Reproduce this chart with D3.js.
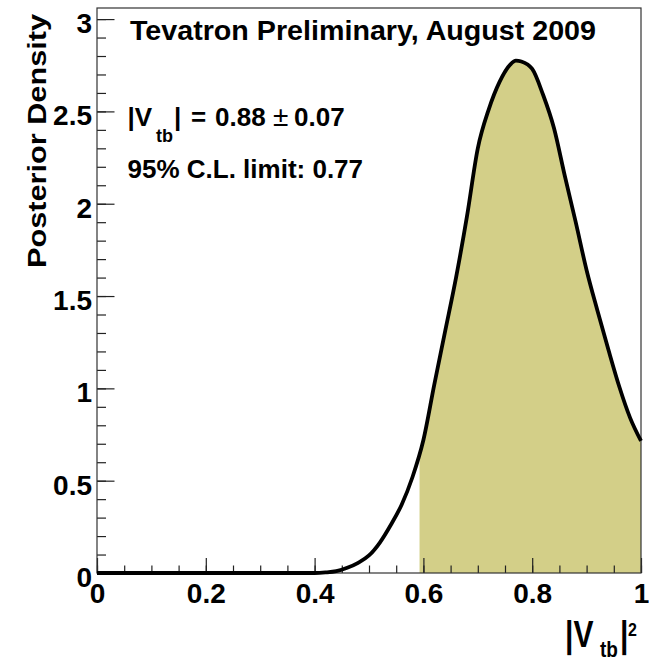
<!DOCTYPE html>
<html>
<head>
<meta charset="utf-8">
<script src="https://cdn.jsdelivr.net/npm/d3@7"></script>
<style>
  html, body { margin: 0; padding: 0; background: #fff; }
  svg { display: block; font-family: "Liberation Sans", Arial, Helvetica, sans-serif; font-weight: bold; }
</style>
</head>
<body>
<svg id="chart" width="649" height="662"></svg>
<script>
// Posterior density for |Vtb|^2
const vtb2 = [0, 0.1, 0.2, 0.3, 0.4, 0.42, 0.44, 0.46, 0.48, 0.50, 0.52, 0.54, 0.56, 0.58, 0.60,
              0.62, 0.64, 0.66, 0.68, 0.70, 0.72, 0.74, 0.76, 0.77, 0.78, 0.80, 0.82, 0.84, 0.86,
              0.88, 0.90, 0.92, 0.94, 0.96, 0.98, 1.00];
const density = [0, 0, 0, 0, 0, 0.003, 0.01, 0.028, 0.055, 0.095, 0.165, 0.26, 0.37, 0.52, 0.72,
                 1.02, 1.31, 1.60, 1.93, 2.30, 2.51, 2.66, 2.755, 2.775, 2.77, 2.73, 2.59, 2.41, 2.15,
                 1.90, 1.64, 1.42, 1.21, 1.01, 0.84, 0.715];

// Fit summary
const vtbCentral = "0.88";
const vtbError = "0.07";
const clLimit = 0.77;            // 95% C.L. lower limit on |Vtb|

// Axes
const xDomain = [0, 1];
const yDomain = [0, 3.06];
const xMajorTicks = [0, 0.2, 0.4, 0.6, 0.8, 1];
const xTickLabels = ["0", "0.2", "0.4", "0.6", "0.8", "1"];
const yMajorTicks = [0, 0.5, 1, 1.5, 2, 2.5, 3];
const yTickLabels = ["0", "0.5", "1", "1.5", "2", "2.5", "3"];
const xMinorStep = 0.05;
const yMinorStep = 0.1;

const titleText = "Tevatron Preliminary, August 2009";
const yTitle = "Posterior Density";

const frame = { left: 97, top: 8, right: 641, bottom: 573 };

const svg = d3.select("#chart");

const x = d3.scaleLinear().domain(xDomain).range([frame.left, frame.right]);
const y = d3.scaleLinear().domain(yDomain).range([frame.bottom, frame.top]);

const pts = vtb2.map((v, i) => ({ x: v, y: density[i] }));

// Shaded region above the 95% C.L. limit on |Vtb|^2
const limit2 = clLimit * clLimit;
svg.append("clipPath").attr("id", "clFill")
  .append("rect")
  .attr("x", x(limit2)).attr("y", frame.top)
  .attr("width", x(xDomain[1]) - x(limit2))
  .attr("height", frame.bottom - frame.top);

const area = d3.area()
  .x(d => x(d.x)).y0(y(0)).y1(d => y(d.y))
  .curve(d3.curveMonotoneX);

svg.append("path")
  .datum(pts)
  .attr("clip-path", "url(#clFill)")
  .attr("fill", "#d3cf88")
  .attr("d", area);

// Minor ticks
const xMinor = d3.range(xDomain[0], xDomain[1] + 1e-9, xMinorStep);
const yMinor = d3.range(0, 3 + 1e-9, yMinorStep);

const gxMinor = svg.append("g")
  .attr("transform", `translate(0,${frame.bottom})`)
  .call(d3.axisBottom(x).tickValues(xMinor).tickSize(-7.5).tickFormat(""));
const gyMinor = svg.append("g")
  .attr("transform", `translate(${frame.left},0)`)
  .call(d3.axisLeft(y).tickValues(yMinor).tickSize(-9).tickFormat(""));

// Major ticks with labels
const gx = svg.append("g")
  .attr("transform", `translate(0,${frame.bottom})`)
  .call(d3.axisBottom(x).tickValues(xMajorTicks).tickSize(-15)
    .tickFormat((d, i) => xTickLabels[i]));
const gy = svg.append("g")
  .attr("transform", `translate(${frame.left},0)`)
  .call(d3.axisLeft(y).tickValues(yMajorTicks).tickSize(-17.5)
    .tickFormat((d, i) => yTickLabels[i]));

[gxMinor, gyMinor, gx, gy].forEach(g => {
  g.select(".domain").remove();
  g.selectAll(".tick line").attr("stroke", "#222").attr("stroke-width", 1.2);
});

gx.selectAll(".tick text")
  .attr("y", 30).attr("dy", null)
  .attr("fill", "#000")
  .style("font-size", "28px").style("font-weight", "bold")
  .style("font-family", "'Liberation Sans', Arial, sans-serif");
gy.selectAll(".tick text")
  .attr("x", -5).attr("y", 13.4).attr("dy", null)
  .attr("fill", "#000")
  .style("font-size", "28px").style("font-weight", "bold")
  .style("font-family", "'Liberation Sans', Arial, sans-serif");

// Frame
svg.append("rect")
  .attr("x", frame.left).attr("y", frame.top)
  .attr("width", frame.right - frame.left)
  .attr("height", frame.bottom - frame.top)
  .attr("fill", "none").attr("stroke", "#333").attr("stroke-width", 1.2);

// Posterior curve
const line = d3.line().x(d => x(d.x)).y(d => y(d.y)).curve(d3.curveMonotoneX);
svg.append("path")
  .datum(pts)
  .attr("fill", "none")
  .attr("stroke", "#000")
  .attr("stroke-width", 3.8)
  .attr("stroke-linejoin", "round")
  .attr("d", line);

// Title and fit summary
svg.append("text")
  .attr("x", 130).attr("y", 40)
  .attr("textLength", 466)
  .attr("lengthAdjust", "spacingAndGlyphs")
  .style("font-size", "27px")
  .text(titleText);

const res = svg.append("text").attr("y", 126).style("font-size", "26px");
res.append("tspan").attr("x", 127.5).text("|V");
res.append("tspan").attr("x", 156).attr("y", 141.5).style("font-size", "18px").text("tb");
res.append("tspan").attr("x", 174).attr("y", 126).text("|");
res.append("tspan").attr("x", 191).text("=");
res.append("tspan").attr("x", 215).text(vtbCentral);
res.append("tspan").attr("x", 273).style("font-weight", "normal").style("font-size", "28px").text("±");
res.append("tspan").attr("x", 294).text(vtbError);

svg.append("text")
  .attr("x", 127.5).attr("y", 178.3)
  .style("font-size", "26px")
  .text(`95% C.L. limit: ${clLimit}`);

// Axis titles
svg.append("text")
  .attr("transform", `translate(46,268) rotate(-90)`)
  .attr("textLength", 254)
  .attr("lengthAdjust", "spacingAndGlyphs")
  .style("font-size", "25px")
  .text(yTitle);

const xt = svg.append("text")
  .attr("transform", `translate(0,647) scale(1,1.2)`)
  .style("font-size", "30px");
xt.append("tspan").attr("x", 565).attr("y", 0).text("|V");
xt.append("tspan").attr("x", 600).attr("y", 8).style("font-size", "19px").text("tb");
xt.append("tspan").attr("x", 620).attr("y", 0).text("|");
xt.append("tspan").attr("x", 628).attr("y", -9.5).style("font-size", "16px").text("2");
</script>
</body>
</html>
